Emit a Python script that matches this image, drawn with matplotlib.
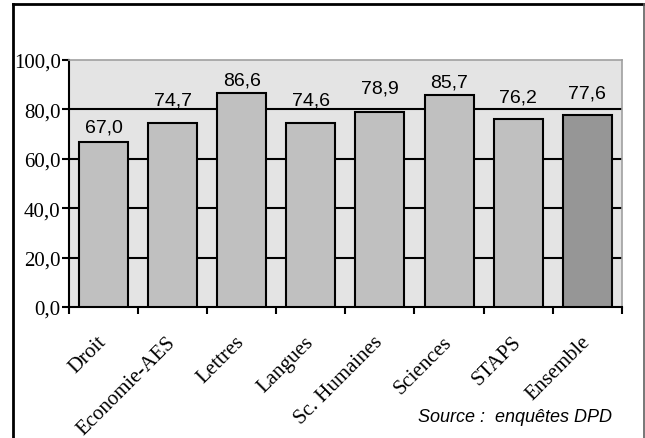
import matplotlib
matplotlib.use("Agg")
import matplotlib.pyplot as plt
import matplotlib.transforms as mtransforms
from matplotlib.lines import Line2D
import numpy as np

categories = ['Droit', 'Economie-AES', 'Lettres', 'Langues', 'Sc. Humaines',
              'Sciences', 'STAPS', 'Ensemble']
values = [67.0, 74.7, 86.6, 74.6, 78.9, 85.7, 76.2, 77.6]
yticks = [0, 20, 40, 60, 80, 100]

colors = ['#c0c0c0'] * 7 + ['#969696']
label_pad = [4, 10, 3, 10, 11, 3.5, 9.5, 10]  # points above bar top

fig = plt.figure(figsize=(6.45, 4.39), dpi=100)
ax = fig.add_axes([0.107, 0.2984, 0.857, 0.5626])

x = np.arange(len(categories))
bars = ax.bar(x, values, width=0.71, color=colors, edgecolor='black',
              linewidth=1.5, zorder=3)

ax.set_facecolor('#e4e4e4')
ax.set_xlim(-0.5, len(categories) - 0.5)
ax.set_ylim(0, 100)
ax.set_yticks(yticks)
ax.set_yticklabels([f"{v:.1f}".replace('.', ',') for v in yticks],
                   family='Liberation Serif', fontsize=15)
for v in yticks[1:-1]:
    ax.axhline(v, color='black', linewidth=1.5, zorder=2)

ax.set_xticks(x)
ax.set_xticklabels(categories, rotation=45, ha='right', va='center',
                   rotation_mode='anchor', family='Liberation Serif', fontsize=15)
shift = mtransforms.ScaledTranslation(-7 / 100, 0, fig.dpi_scale_trans)
for lbl in ax.get_xticklabels():
    lbl.set_transform(lbl.get_transform() + shift)
ax.set_xticks(np.arange(-0.5, len(categories)), minor=True)
ax.tick_params(axis='x', which='major', length=0, pad=23)
ax.tick_params(axis='x', which='minor', length=5, width=1.5, direction='out')
ax.tick_params(axis='y', length=5, width=1.5, direction='out', pad=1)

for s in ['left', 'bottom']:
    ax.spines[s].set_linewidth(1.5)
    ax.spines[s].set_color('black')
for s in ['top', 'right']:
    ax.spines[s].set_linewidth(1.2)
    ax.spines[s].set_color('#a0a0a0')

for xi, v, p in zip(x, values, label_pad):
    ax.annotate(f"{v:.1f}".replace('.', ','), (xi, v), xytext=(0, p),
                textcoords='offset points', ha='center', va='bottom',
                family='Liberation Sans', fontsize=14, zorder=4)

fig.text(0.648, 0.05, 'Source :  enquêtes DPD', family='Liberation Sans',
         style='italic', fontsize=13, va='center', ha='left')

# outer frame
fig.add_artist(Line2D([0.0202, 0.0202], [0, 0.9886], color='black', lw=2,
                      transform=fig.transFigure))
fig.add_artist(Line2D([0.0202, 0.998], [0.9886, 0.9886], color='black', lw=2,
                      transform=fig.transFigure))
fig.add_artist(Line2D([0.998, 0.998], [0, 0.9886], color='#606060', lw=1.2,
                      transform=fig.transFigure))

fig.savefig('out.png', dpi=100)
